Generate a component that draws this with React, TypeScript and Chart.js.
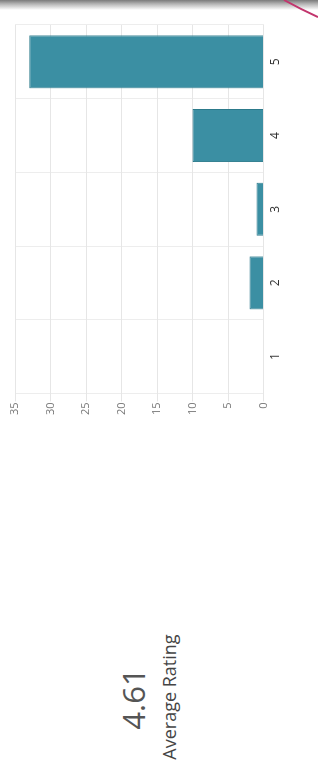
import React, { useEffect, useRef } from "react";
import { Chart, registerables } from "chart.js";

Chart.register(...registerables);

const categories = ["1", "2", "3", "4", "5"];
const counts = [0, 2, 1, 10, 33];
const valueTicks = [0, 5, 10, 15, 20, 25, 30, 35];
const averageRating = "4.61";
const averageLabel = "Average Rating";

export default function App() {
  const ref = useRef<HTMLCanvasElement | null>(null);

  useEffect(() => {
    if (!ref.current) return;
    const chart = new Chart(ref.current, {
      type: "bar",
      data: {
        labels: categories,
        datasets: [
          {
            data: counts,
            backgroundColor: "#3b8fa3",
            borderColor: "#2c7a8b",
            borderWidth: 1,
          },
        ],
      },
      options: {
        animation: false,
        responsive: true,
        maintainAspectRatio: false,
        layout: { padding: { left: 27, right: 25, top: 15, bottom: 12 } },
        plugins: { legend: { display: false }, tooltip: { enabled: false } },
        scales: {
          x: {
            grid: { color: "#ededed", drawTicks: false, offset: true },
            border: { display: false },
            ticks: {
              padding: 5,
              color: "#333",
              font: { family: "'Open Sans', sans-serif", size: 12 },
            },
          },
          y: {
            min: valueTicks[0],
            max: valueTicks[valueTicks.length - 1],
            grid: { color: "#e6e6e6" },
            border: { display: false },
            ticks: {
              stepSize: 5,
              padding: 1,
              color: "#777",
              font: { family: "'Open Sans', sans-serif", size: 11 },
            },
          },
        },
      },
    });
    return () => chart.destroy();
  }, []);

  return (
    <div
      style={{
        position: "fixed",
        left: 0,
        top: 0,
        width: 318,
        height: 773,
        background: "#fff",
        overflow: "hidden",
      }}
    >
      <div
        style={{
          position: "absolute",
          left: 0,
          top: 0,
          width: 773,
          height: 318,
          transformOrigin: "0 0",
          transform: "translateY(773px) rotate(-90deg)",
        }}
      >
        <div style={{ position: "absolute", left: 330, top: 0, width: 443, height: 300 }}>
          <canvas ref={ref} />
        </div>
        <div
          style={{
            position: "absolute",
            left: 0,
            width: 148,
            top: 113,
            textAlign: "center",
            fontFamily: "'Open Sans', sans-serif",
            color: "#555",
            fontSize: 31,
            lineHeight: "40px",
          }}
        >
          {averageRating}
        </div>
        <div
          style={{
            position: "absolute",
            left: 0,
            width: 152,
            top: 157,
            textAlign: "center",
            fontFamily: "'Open Sans', sans-serif",
            color: "#444",
            fontSize: 18,
            lineHeight: "24px",
          }}
        >
          {averageLabel}
        </div>
      </div>
      <div
        style={{
          position: "absolute",
          left: 0,
          top: 0,
          width: 318,
          height: 10,
          background: "linear-gradient(to bottom, #7a7a7a 0%, #b5b5b5 40%, rgba(255,255,255,0) 100%)",
        }}
      />
      <svg
        width={318}
        height={40}
        style={{ position: "absolute", left: 0, top: 0 }}
      >
        <path d="M284 0 Q300 9 318 17" stroke="#c2356d" strokeWidth={2} fill="none" />
      </svg>
    </div>
  );
}
